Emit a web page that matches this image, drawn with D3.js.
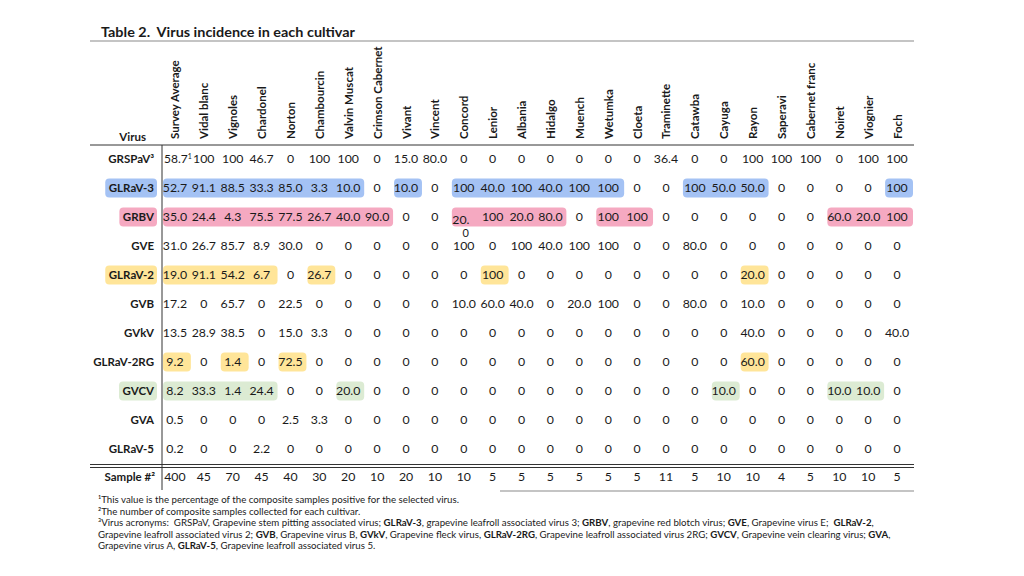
<!DOCTYPE html>
<html><head><meta charset="utf-8">
<script src="https://cdn.jsdelivr.net/npm/d3@7"></script>
<style>
html,body{margin:0;padding:0;background:#fff;}
svg text{font-family:Lato,"Noto Sans",sans-serif;fill:#1a1a1a;white-space:pre;}
</style></head>
<body>
<svg id="c" width="1024" height="576"></svg>
<script>
const title = "Table 2.  Virus incidence in each cultivar";
const cultivars = ["Survey Average","Vidal blanc","Vignoles","Chardonel","Norton","Chambourcin","Valvin Muscat","Crimson Cabernet","Vivant","Vincent","Concord","Lenior","Albania","Hidalgo","Muench","Wetumka","Cloeta","Traminette","Catawba","Cayuga","Rayon","Saperavi","Cabernet franc","Noiret","Viognier","Foch"];
const viruses = ["GRSPaV³","GLRaV-3","GRBV","GVE","GLRaV-2","GVB","GVkV","GLRaV-2RG","GVCV","GVA","GLRaV-5"];
const GRSPaV   = [58.7,100,100,46.7,0,100,100,0,15.0,80.0,0,0,0,0,0,0,0,36.4,0,0,100,100,100,0,100,100];
const GLRaV3   = [52.7,91.1,88.5,33.3,85.0,3.3,10.0,0,10.0,0,100,40.0,100,40.0,100,100,0,0,100,50.0,50.0,0,0,0,0,100];
const GRBV     = [35.0,24.4,4.3,75.5,77.5,26.7,40.0,90.0,0,0,20.0,100,20.0,80.0,0,100,100,0,0,0,0,0,0,60.0,20.0,100];
const GVE      = [31.0,26.7,85.7,8.9,30.0,0,0,0,0,0,100,0,100,40.0,100,100,0,0,80.0,0,0,0,0,0,0,0];
const GLRaV2   = [19.0,91.1,54.2,6.7,0,26.7,0,0,0,0,0,100,0,0,0,0,0,0,0,0,20.0,0,0,0,0,0];
const GVB      = [17.2,0,65.7,0,22.5,0,0,0,0,0,10.0,60.0,40.0,0,20.0,100,0,0,80.0,0,10.0,0,0,0,0,0];
const GVkV     = [13.5,28.9,38.5,0,15.0,3.3,0,0,0,0,0,0,0,0,0,0,0,0,0,0,40.0,0,0,0,0,40.0];
const GLRaV2RG = [9.2,0,1.4,0,72.5,0,0,0,0,0,0,0,0,0,0,0,0,0,0,0,60.0,0,0,0,0,0];
const GVCV     = [8.2,33.3,1.4,24.4,0,0,20.0,0,0,0,0,0,0,0,0,0,0,0,0,10.0,0,0,0,10.0,10.0,0];
const GVA      = [0.5,0,0,0,2.5,3.3,0,0,0,0,0,0,0,0,0,0,0,0,0,0,0,0,0,0,0,0];
const GLRaV5   = [0.2,0,0,2.2,0,0,0,0,0,0,0,0,0,0,0,0,0,0,0,0,0,0,0,0,0,0];
const seriesValues = [GRSPaV,GLRaV3,GRBV,GVE,GLRaV2,GVB,GVkV,GLRaV2RG,GVCV,GVA,GLRaV5];
const sampleLabel = "Sample #²";
const samples = [400,45,70,45,40,30,20,10,20,10,10,5,5,5,5,5,5,11,5,10,10,4,5,10,10,5];
// highlighted spans: [virus, first cultivar, last cultivar]
const highlightLabels = ["GLRaV-3","GRBV","GLRaV-2","GVCV"];
const highlightSpans = [
 ["GLRaV-3","Survey Average","Valvin Muscat"],["GLRaV-3","Vivant","Vivant"],["GLRaV-3","Concord","Wetumka"],["GLRaV-3","Catawba","Rayon"],["GLRaV-3","Foch","Foch"],
 ["GRBV","Survey Average","Crimson Cabernet"],["GRBV","Concord","Hidalgo"],["GRBV","Wetumka","Cloeta"],["GRBV","Noiret","Foch"],
 ["GLRaV-2","Survey Average","Chardonel"],["GLRaV-2","Chambourcin","Chambourcin"],["GLRaV-2","Lenior","Lenior"],["GLRaV-2","Rayon","Rayon"],
 ["GLRaV-2RG","Survey Average","Survey Average"],["GLRaV-2RG","Vignoles","Vignoles"],["GLRaV-2RG","Norton","Norton"],["GLRaV-2RG","Rayon","Rayon"],
 ["GVCV","Survey Average","Chardonel"],["GVCV","Valvin Muscat","Valvin Muscat"],["GVCV","Cayuga","Cayuga"],["GVCV","Noiret","Viognier"]
];
const footnotes = [
 [["¹This value is the percentage of the composite samples positive for the selected virus.",0]],
 [["²The number of composite samples collected for each cultivar.",0]],
 [["³Virus acronyms:  GRSPaV, Grapevine stem pitting associated virus; ",0],["GLRaV-3",1],[", grapevine leafroll associated virus 3; ",0],["GRBV",1],[", grapevine red blotch virus; ",0],["GVE",1],[", Grapevine virus E;  ",0],["GLRaV-2",1],[",",0]],
 [["Grapevine leafroll associated virus 2; ",0],["GVB",1],[", Grapevine virus B, ",0],["GVkV",1],[", Grapevine fleck virus, ",0],["GLRaV-2RG",1],[", Grapevine leafroll associated virus 2RG; ",0],["GVCV",1],[", Grapevine vein clearing virus; ",0],["GVA",1],[",",0]],
 [["Grapevine virus A, ",0],["GLRaV-5",1],[", Grapevine leafroll associated virus 5.",0]]
];

const fmt = v => (v === 0 || v === 100) ? String(v) : v.toFixed(1);
const svg = d3.select("#c");
const x = d3.scaleBand().domain(cultivars).range([160.5, 911.5]);
const y = d3.scaleBand().domain(viruses).range([144.5, 463.5]);
const cx = c => x(c) + x.bandwidth()/2;
const cy = v => y(v) + y.bandwidth()/2;
const vname = v => v.replace("³","");
const color = d3.scaleOrdinal().domain(["GLRaV-3","GRBV","GLRaV-2","GLRaV-2RG","GVCV"])
  .range(["#a4c2f4","#f5a9c1","#ffe599","#ffe599","#dcebd3"]);

// title
svg.append("text").attr("x",101).attr("y",37).style("font-weight","bold").style("font-size","12.5px")
  .attr("textLength",254).attr("lengthAdjust","spacingAndGlyphs").text(title);

// rules
svg.append("line").attr("x1",90).attr("x2",914).attr("y1",41).attr("y2",41).attr("stroke","#8a8a8a").attr("stroke-width",1.2);
svg.append("line").attr("x1",90).attr("x2",914).attr("y1",145).attr("y2",145).attr("stroke","#333").attr("stroke-width",1);
svg.append("line").attr("x1",90).attr("x2",914).attr("y1",464.5).attr("y2",464.5).attr("stroke","#333").attr("stroke-width",1);
svg.append("line").attr("x1",90).attr("x2",914).attr("y1",467.5).attr("y2",467.5).attr("stroke","#333").attr("stroke-width",1);
svg.append("line").attr("x1",500).attr("x2",914).attr("y1",491).attr("y2",491).attr("stroke","#8a8a8a").attr("stroke-width",1.2);
svg.append("line").attr("x1",162).attr("x2",162).attr("y1",145).attr("y2",490).attr("stroke","#333").attr("stroke-width",1);

// highlight rects
svg.append("g").selectAll("rect").data(highlightSpans).join("rect")
  .attr("x", d => x(d[1]) + 2.5)
  .attr("width", d => x(d[2]) - x(d[1]) + x.bandwidth() - 1)
  .attr("y", d => cy(d[0]) - 9.5).attr("height", 19)
  .attr("rx", 4).attr("fill", d => color(d[0]));

// header
svg.append("text").attr("x",146).attr("y",141).attr("text-anchor","end")
  .style("font-weight","bold").style("font-size","11.5px").text("Virus");
svg.append("g").selectAll("text").data(cultivars).join("text")
  .attr("transform", d => `translate(${cx(d)+4.5},139) rotate(-90)`)
  .style("font-weight","bold").style("font-size","11.5px").text(d => d);

// row labels
const lab = svg.append("g").selectAll("g").data(viruses).join("g");
lab.append("text").attr("x",154).attr("y",d => cy(d)+4).attr("text-anchor","end")
  .style("font-weight","bold").style("font-size","11.5px").text(d => d);
lab.each(function(d){
  if (!highlightLabels.includes(vname(d))) return;
  const t = d3.select(this).select("text").node();
  const w = t.getComputedTextLength();
  d3.select(this).insert("rect","text").attr("x",154 - w - 3.5).attr("width", w + 6.5)
    .attr("y", cy(d) - 9.5).attr("height",19).attr("rx",4).attr("fill", color(vname(d)));
});

// cells
const isWrap = d => d.v==="GRBV" && d.c==="Concord";
const isNoted = d => d.v==="GRSPaV³" && d.c==="Survey Average";
const cells = [];
viruses.forEach((v,i) => cultivars.forEach((c,j) => cells.push({v, c, val: seriesValues[i][j]})));
const ct = svg.append("g").selectAll("text").data(cells).join("text")
  .attr("x", d => isWrap(d) ? x(d.c)+3 : isNoted(d) ? x(d.c)+3.5 : cx(d.c))
  .attr("y", d => cy(d.v) + 4 + (isWrap(d) ? 3 : 0))
  .attr("text-anchor", d => (isWrap(d) || isNoted(d)) ? "start" : "middle")
  .style("font-size", d => isNoted(d) ? "12px" : "12.3px")
  .text(d => isWrap(d) ? fmt(d.val).slice(0,-1) : fmt(d.val));
ct.filter(isNoted).append("tspan").attr("dy",-4).style("font-size","7px").text("1");
// wrapped remainder of the Concord GRBV cell
svg.append("text").attr("x", cx("Concord")+2).attr("y", cy("GRBV")+20).attr("text-anchor","middle")
  .style("font-size","11px").text(fmt(GRBV[cultivars.indexOf("Concord")]).slice(-1));

// sample row
svg.append("text").attr("x",155).attr("y",481).attr("text-anchor","end")
  .style("font-weight","bold").style("font-size","11.5px").text(sampleLabel);
svg.append("g").selectAll("text").data(samples).join("text")
  .attr("x",(d,i) => cx(cultivars[i])).attr("y",481).attr("text-anchor","middle")
  .style("font-size","12.3px").text(d => d);

// footnotes
const fn = svg.append("g");
footnotes.forEach((line,i) => {
  const t = fn.append("text").attr("x",98).attr("y",503 + i*11.6).style("font-size","9.7px");
  line.forEach(s => t.append("tspan").style("font-weight", s[1] ? "bold" : "normal").text(s[0]));
});
</script>
</body></html>
